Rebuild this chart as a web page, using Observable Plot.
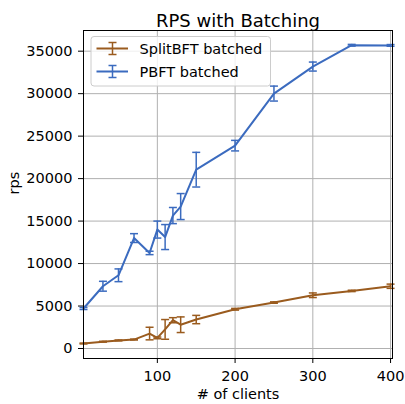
<!DOCTYPE html>
<html>
<head>
<meta charset="utf-8">
<script src="https://cdn.jsdelivr.net/npm/d3@7"></script>
<script src="https://cdn.jsdelivr.net/npm/@observablehq/plot@0.6"></script>
<style>
  html, body { margin: 0; padding: 0; background: white; }
</style>
</head>
<body>
<div id="chart"></div>
<script>
// ---- data ----
const clients = [5, 30, 50, 70, 90, 100, 110, 120, 130, 150, 200, 250, 300, 350, 400];
const pbftRps = [4710, 7330, 8620, 13000, 11250, 14000, 13120, 15650, 16710, 21050, 23880, 30010, 33190, 35700, 35680];
const pbftErr = [120, 580, 750, 520, 200, 1000, 1470, 950, 1530, 2040, 620, 880, 530, 100, 100];
const splitRps = [590, 800, 950, 1050, 1760, 1250, 2250, 3330, 2800, 3410, 4620, 5410, 6270, 6780, 7330];
const splitErr = [50, 50, 50, 50, 740, 100, 1160, 300, 920, 490, 100, 80, 270, 80, 250];
const seriesNames = ["SplitBFT batched", "PBFT batched"];
const seriesColors = ["#9a5b1e", "#3b6bbf"];
const xTicks = [100, 200, 300, 400];
const yTicks = [0, 5000, 10000, 15000, 20000, 25000, 30000, 35000];
const titleText = "RPS with Batching";
const xLabel = "# of clients";
const yLabel = "rps";

const rows = [];
clients.forEach((c, i) => {
  rows.push({series: seriesNames[0], x: c, y: splitRps[i], e: splitErr[i]});
});
clients.forEach((c, i) => {
  rows.push({series: seriesNames[1], x: c, y: pbftRps[i], e: pbftErr[i]});
});

// horizontal cap symbol for error bars
const capSymbol = {
  draw(ctx, size) {
    const w = Math.sqrt(size / Math.PI);
    ctx.moveTo(-w, 0);
    ctx.lineTo(w, 0);
  }
};

const font = "DejaVu Sans, sans-serif";

const chart = Plot.plot({
  width: 405,
  height: 404,
  marginLeft: 83,
  marginRight: 13,
  marginTop: 30,
  marginBottom: 46,
  style: {fontFamily: font, fontSize: "14.5px", background: "white", color: "black"},
  x: {domain: [5, 402.5]},
  y: {domain: [-1176, 37435]},
  color: {domain: seriesNames, range: seriesColors},
  marks: [
    Plot.gridX(xTicks, {stroke: "#b0b0b0", strokeOpacity: 1, strokeWidth: 1}),
    Plot.gridY(yTicks, {stroke: "#b0b0b0", strokeOpacity: 1, strokeWidth: 1}),
    Plot.axisX({ticks: xTicks, tickSize: 5, tickPadding: 7, label: null, tickFormat: d => String(d)}),
    Plot.axisY({ticks: yTicks, tickSize: 5, tickPadding: 6, label: null, tickFormat: d => String(d)}),
    Plot.ruleX(rows, {x: "x", y1: d => d.y - d.e, y2: d => d.y + d.e, stroke: "series", strokeWidth: 1.5}),
    Plot.dot(rows, {x: "x", y: d => d.y - d.e, symbol: capSymbol, r: 4, stroke: "series", strokeWidth: 1.5, fill: "none"}),
    Plot.dot(rows, {x: "x", y: d => d.y + d.e, symbol: capSymbol, r: 4, stroke: "series", strokeWidth: 1.5, fill: "none"}),
    Plot.line(rows, {x: "x", y: "y", z: "series", stroke: "series", strokeWidth: 2}),
    Plot.frame({stroke: "black", strokeWidth: 1}),
    Plot.text([titleText], {frameAnchor: "top", dy: -16, fontSize: 18, fill: "black"}),
    Plot.text([xLabel], {frameAnchor: "bottom", dy: 40, fontSize: 14.5, fill: "black"}),
    Plot.text([yLabel], {frameAnchor: "left", dx: -69, rotate: -90, fontSize: 14.5, fill: "black"})
  ]
});

document.getElementById("chart").appendChild(chart);

// legend, drawn into the svg
const svg = d3.select(chart);
const lg = svg.append("g").attr("font-family", font).attr("font-size", 14.5).attr("text-anchor", "start");
lg.append("rect")
  .attr("x", 91).attr("y", 36.5).attr("width", 179.5).attr("height", 49.5)
  .attr("rx", 3).attr("fill", "white").attr("fill-opacity", 0.8)
  .attr("stroke", "#cccccc").attr("stroke-width", 1);
seriesNames.forEach((name, i) => {
  const yc = 48.5 + i * 23;
  const col = seriesColors[i];
  const item = lg.append("g");
  item.append("line").attr("x1", 96.5).attr("x2", 128).attr("y1", yc).attr("y2", yc)
    .attr("stroke", col).attr("stroke-width", 2);
  item.append("line").attr("x1", 112.5).attr("x2", 112.5).attr("y1", yc - 6).attr("y2", yc + 6)
    .attr("stroke", col).attr("stroke-width", 1.5);
  [yc - 6, yc + 6].forEach(yy => {
    item.append("line").attr("x1", 108.5).attr("x2", 116.5).attr("y1", yy).attr("y2", yy)
      .attr("stroke", col).attr("stroke-width", 1.5);
  });
  item.append("text").attr("x", 139.5).attr("y", yc).attr("dy", "0.35em")
    .attr("text-anchor", "start").attr("fill", "black").text(name);
});
</script>
</body>
</html>
